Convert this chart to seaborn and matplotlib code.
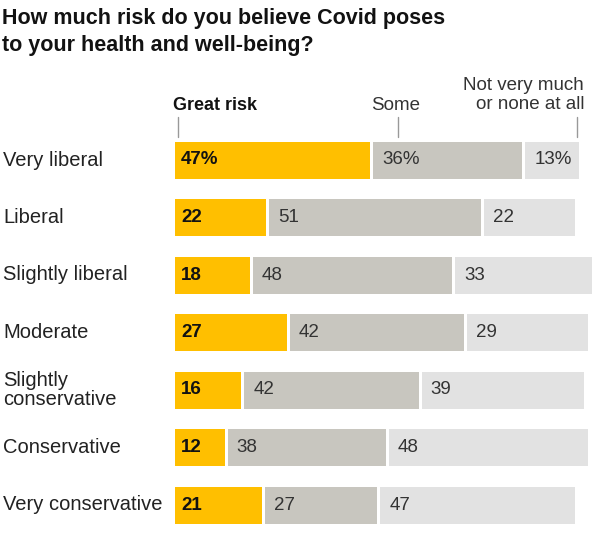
import matplotlib
matplotlib.use("Agg")
import matplotlib.pyplot as plt
import seaborn as sns
import numpy as np
import pandas as pd

categories = ["Very liberal", "Liberal", "Slightly liberal", "Moderate",
              "Slightly\nconservative", "Conservative", "Very conservative"]
great_risk = [47, 22, 18, 27, 16, 12, 21]
some = [36, 51, 48, 42, 42, 38, 27]
not_much = [13, 22, 33, 29, 39, 48, 47]
series_names = ["Great risk", "Some", "Not very much\nor none at all"]

sns.set_theme(style="white")
FAM = ["Liberation Sans", "DejaVu Sans"]
plt.rcParams["font.family"] = FAM

W, H = 600, 543
fig = plt.figure(figsize=(W / 100, H / 100), dpi=100)
PX = 4.15  # pixels per percentage point
x0 = 175
ax = fig.add_axes([x0 / W, 0, (W - x0) / W, 1])
pitch = 57.5
c0 = 160

gap = 3 / PX
colors = ["#FFBF00", "#C8C6BF", "#E2E2E2"]
df = pd.DataFrame({"cat": categories, "g": great_risk, "s": some, "n": not_much})
lefts = [np.zeros(len(df)), df["g"].values + gap, df["g"].values + df["s"].values + 2 * gap]
for col, left, color in zip(["g", "s", "n"], lefts, colors):
    sns.barplot(data=df, x=col, y="cat", left=left, color=color, width=37 / pitch,
                saturation=1, ax=ax, linewidth=0, orient="h")
ax.set_xlim(0, (W - x0) / PX)
ax.set_ylim((H - c0) / pitch, -c0 / pitch)
ax.axis("off")

for i in range(len(df)):
    for j, (col, left) in enumerate(zip(["g", "s", "n"], lefts)):
        v = df[col].iloc[i]
        txt = f"{v}%" if i == 0 else f"{v}"
        off = 6 / PX if j == 0 else 9 / PX
        ax.text(left[i] + off, i, txt, va="center", ha="left", fontsize=13.5,
                fontweight="bold" if j == 0 else "normal",
                color="#121212" if j == 0 else "#333333", family=FAM)
    fig.text(3 / W, 1 - (c0 + pitch * i) / H, categories[i], ha="left", va="center",
             fontsize=14.5, color="#222222", family=FAM, linespacing=1.05)

def px2fig(x, y):
    return x / W, 1 - y / H

fig.text(*px2fig(173, 105), series_names[0], ha="left", va="center", fontsize=13,
         fontweight="bold", color="#121212", family=FAM)
fig.text(*px2fig(396, 105), series_names[1], ha="center", va="center", fontsize=13.5,
         color="#333333", family=FAM)
fig.text(*px2fig(584, 95), series_names[2], ha="right", va="center", fontsize=13.5,
         color="#333333", family=FAM, linespacing=1.15, multialignment="right")
for tx in [178, 397.5, 577]:
    fig.add_artist(plt.Line2D([tx / W, tx / W], [1 - 117 / H, 1 - 137 / H],
                              color="#999999", lw=1))

fig.text(*px2fig(2, 32), "How much risk do you believe Covid poses\nto your health and well-being?",
         ha="left", va="center", fontsize=15.5, fontweight="bold", color="#121212",
         family=FAM, linespacing=1.35)

fig.savefig("out.png", dpi=100)
